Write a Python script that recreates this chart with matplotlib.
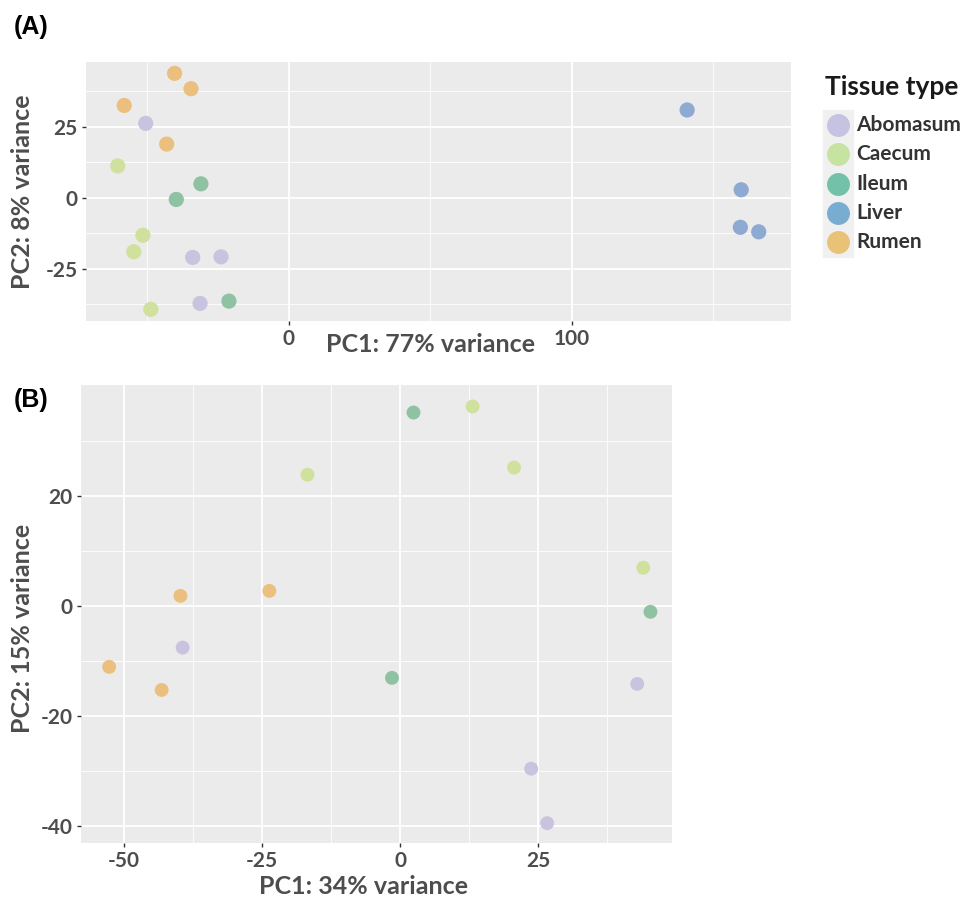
import matplotlib
matplotlib.use("Agg")
import matplotlib.pyplot as plt
from matplotlib.lines import Line2D
from matplotlib.patches import Rectangle

plt.rcParams['font.family'] = ['Lato', 'DejaVu Sans']
plt.rcParams['font.weight'] = 'bold'
plt.rcParams['axes.labelweight'] = 'bold'
plt.rcParams['axes.unicode_minus'] = False

tissues = ['Abomasum', 'Caecum', 'Ileum', 'Liver', 'Rumen']
point_colors = ['#c9c3df', '#cfe19c', '#8ec2a2', '#8ea9d2', '#ebc07e']
key_colors = ['#c5c2e2', '#c7e3a1', '#72c1a8', '#79acd1', '#e8c276']

# panel A: all tissues (PC1 77%, PC2 8%)
a_tissue = ['Rumen', 'Rumen', 'Rumen', 'Rumen',
            'Abomasum', 'Abomasum', 'Abomasum', 'Abomasum',
            'Caecum', 'Caecum', 'Caecum', 'Caecum',
            'Ileum', 'Ileum', 'Ileum',
            'Liver', 'Liver', 'Liver', 'Liver']
a_pc1 = [-40.4, -34.6, -58.2, -43.2,
         -50.6, -34.0, -24.0, -31.4,
         -60.5, -51.6, -54.8, -48.8,
         -31.1, -39.8, -21.2,
         140.7, 159.8, 159.5, 166.0]
a_pc2 = [43.8, 38.4, 32.5, 18.9,
         26.2, -21.0, -20.8, -37.2,
         11.2, -13.2, -19.0, -39.3,
         4.9, -0.6, -36.4,
         30.9, 2.8, -10.4, -12.0]

# panel B: without liver (PC1 34%, PC2 15%)
b_tissue = ['Rumen', 'Rumen', 'Rumen', 'Rumen',
            'Abomasum', 'Abomasum', 'Abomasum', 'Abomasum',
            'Caecum', 'Caecum', 'Caecum', 'Caecum',
            'Ileum', 'Ileum', 'Ileum']
b_pc1 = [-39.8, -23.7, -52.7, -43.2,
         -39.4, 42.9, 23.7, 26.6,
         -16.8, 13.1, 20.6, 44.0,
         2.4, 45.3, -1.5]
b_pc2 = [1.8, 2.7, -11.1, -15.3,
         -7.6, -14.2, -29.6, -39.5,
         23.8, 36.2, 25.1, 6.9,
         35.1, -1.1, -13.1]

TXT = '#4d4d4d'


def style_axes(ax, xmajor, xminor, ymajor, yminor):
    ax.set_facecolor('#ebebeb')
    for s in ax.spines.values():
        s.set_visible(False)
    ax.set_xticks(xmajor)
    ax.set_xticks(xminor, minor=True)
    ax.set_yticks(ymajor)
    ax.set_yticks(yminor, minor=True)
    ax.grid(True, which='major', color='white', linewidth=1.3)
    ax.grid(True, which='minor', color='white', linewidth=0.6)
    ax.set_axisbelow(True)
    ax.tick_params(which='major', length=3, width=1, color='#333333',
                   labelsize=15, labelcolor=TXT, pad=3)
    ax.tick_params(which='minor', length=0)


def draw(ax, tissue, pc1, pc2, size):
    for name, col in zip(tissues, point_colors):
        xs = [x for x, t in zip(pc1, tissue) if t == name]
        ys = [y for y, t in zip(pc2, tissue) if t == name]
        if xs:
            ax.scatter(xs, ys, s=size, color=col, edgecolors='none', zorder=3)


fig = plt.figure(figsize=(9.64, 8.97), dpi=100)

# (A)
axA = fig.add_axes([86 / 964, 1 - 321 / 897, 705 / 964, 259 / 897])
style_axes(axA, [0, 100], [-50, 50, 150], [-25, 0, 25], [-37.5, -12.5, 12.5, 37.5])
draw(axA, a_tissue, a_pc1, a_pc2, 120)
axA.set_xlim(-71.7, 177.4)
axA.set_ylim(-43.4, 47.8)
axA.set_xlabel('PC1: 77% variance', fontsize=18, color=TXT)
axA.xaxis.set_label_coords((430 - 86) / 705, (321 - 345) / 259)
axA.xaxis.label.set_va('center')
axA.set_ylabel('PC2: 8% variance', fontsize=18, color=TXT)
axA.yaxis.set_label_coords((23 - 86) / 705, (321 - 192) / 259)
axA.yaxis.label.set_va('center')

# legend, drawn by hand in figure pixels
W, H = 964, 897
fig.add_artist(Rectangle((823 / W, 1 - 257 / H), 30 / W, 147 / H,
                         transform=fig.transFigure, color='#f0f0f0', zorder=0))
fig.text(825 / W, 1 - 87 / H, 'Tissue type', fontsize=19, fontweight='bold',
         color='#1a1a1a', va='center', ha='left')
for i, (name, col) in enumerate(zip(tissues, key_colors)):
    y = 1 - (125 + i * 29.3) / H
    fig.add_artist(Line2D([838 / W], [y], transform=fig.transFigure,
                          marker='o', linestyle='none', markersize=16.5,
                          markerfacecolor=col, markeredgecolor='none'))
    fig.text(856 / W, y, name, fontsize=15, fontweight='bold',
             color='#333333', va='center', ha='left')

fig.text(14 / W, 1 - 27 / H, '(A)', fontsize=18, fontweight='bold',
         family='Liberation Sans', va='center', ha='left')

# (B)
axB = fig.add_axes([81 / W, 1 - 843 / H, 591 / W, 458 / H])
style_axes(axB, [-50, -25, 0, 25], [-37.5, -12.5, 12.5, 37.5],
           [-40, -20, 0, 20], [-30, -10, 10, 30])
draw(axB, b_tissue, b_pc1, b_pc2, 100)
axB.set_xlim(-57.8, 49.2)
axB.set_ylim(-43.1, 40.1)
axB.set_xlabel('PC1: 34% variance', fontsize=18, color=TXT)
axB.xaxis.set_label_coords((363 - 81) / 591, (843 - 886) / 458)
axB.xaxis.label.set_va('center')
axB.set_ylabel('PC2: 15% variance', fontsize=18, color=TXT)
axB.yaxis.set_label_coords((23 - 81) / 591, (843 - 628) / 458)
axB.yaxis.label.set_va('center')

fig.text(14 / W, 1 - 400 / H, '(B)', fontsize=18, fontweight='bold',
         family='Liberation Sans', va='center', ha='left')

fig.savefig('out.png', dpi=100)
